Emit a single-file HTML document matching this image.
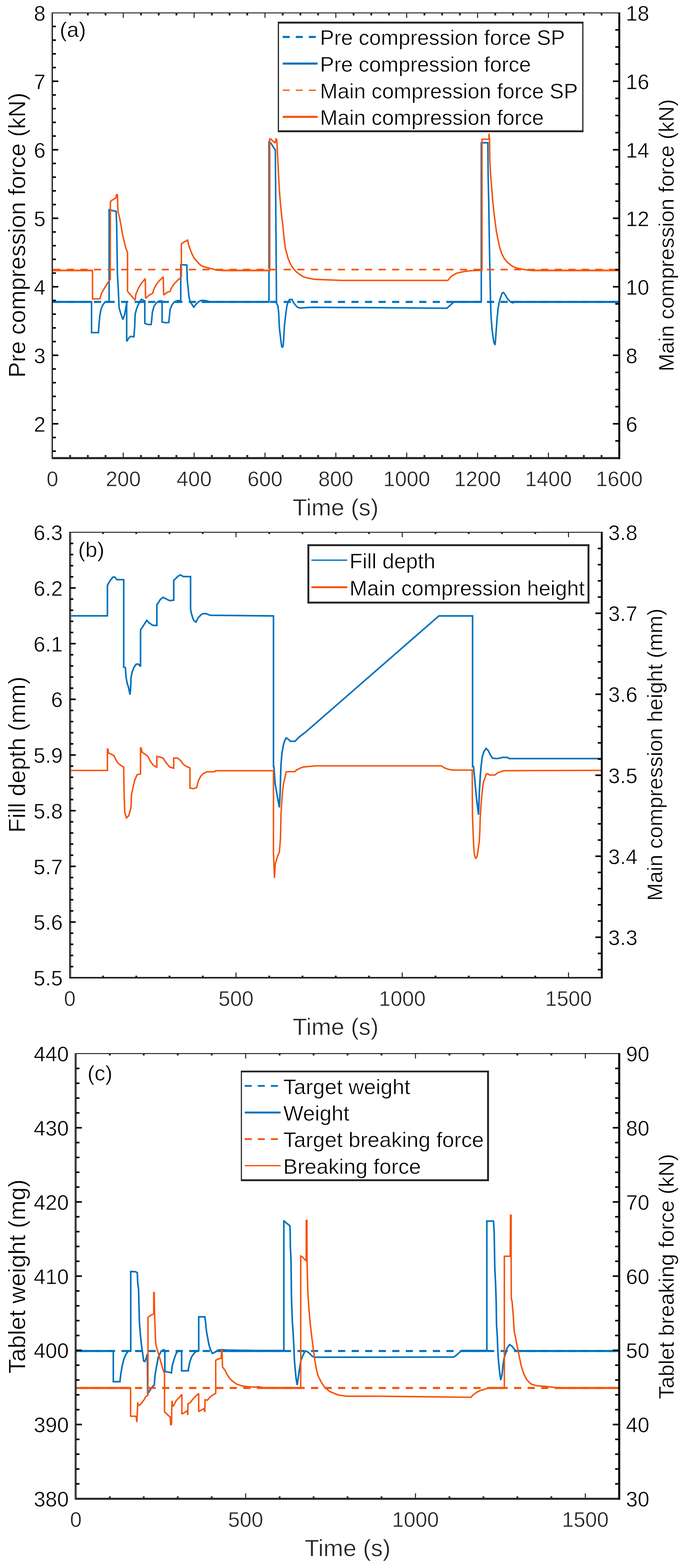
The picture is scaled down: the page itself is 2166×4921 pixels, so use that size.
<!DOCTYPE html>
<html><head><meta charset="utf-8"><title>Figure</title><style>html,body{margin:0;padding:0;background:#fff;}svg{display:block;}</style></head><body>
<svg width="2166" height="4921" viewBox="0 0 2166 4921" font-family="Liberation Sans, Arial, Helvetica, sans-serif">
<rect x="0" y="0" width="2166" height="4921" fill="#fff"/>
<defs>
<clipPath id="ca"><rect x="164.5" y="40.0" width="1779.5" height="1397.5"/></clipPath>
<clipPath id="cb"><rect x="219.0" y="1670.5" width="1670.0" height="1398.0"/></clipPath>
<clipPath id="cc"><rect x="238.0" y="3306.5" width="1706.0" height="1397.0"/></clipPath>
</defs>
<polyline points="164.5,947.6 1944.0,947.6" fill="none" stroke="#0072BD" stroke-width="6.5" stroke-linejoin="miter" stroke-miterlimit="2" stroke-dasharray="22.5 20.04" stroke-dashoffset="39.7" clip-path="url(#ca)"/>
<polyline points="164.5,947.3 287.4,947.3 287.4,1043.9 309.1,1043.9 310.4,1024.0 313.1,992.3 317.0,971.1 322.3,957.9 329.0,948.6 340.8,946.0 342.5,946.0 342.5,658.2 350.5,660.3 364.5,663.5 366.3,705.8 368.6,860.0 371.3,907.6 373.9,965.8 379.2,984.3 385.8,1002.9 391.1,987.0 395.1,965.8 397.7,950.0 397.7,1071.6 404.3,1061.0 409.6,1055.8 420.2,1057.1 422.9,1024.0 424.2,987.0 428.1,971.1 432.1,960.5 438.7,947.3 444.0,939.4 452.0,943.3 454.6,944.0 454.6,1014.8 465.2,1018.7 474.4,1018.7 475.8,1008.1 478.4,979.0 483.7,960.5 491.6,950.0 499.6,944.7 506.2,944.7 508.8,945.0 508.8,1010.8 520.7,1012.9 530.0,1012.1 531.3,997.6 534.0,971.1 539.3,957.9 547.2,947.3 557.8,943.3 567.4,943.5 567.4,830.5 586.5,831.8 587.8,878.1 590.4,902.0 593.1,931.1 597.0,946.9 602.3,954.9 608.1,964.1 615.6,954.9 623.5,946.9 631.4,943.0 639.4,943.0 650.0,944.3 660.0,947.5 844.4,947.5 844.4,446.0 850.3,449.1 861.7,467.6 864.4,470.0 865.3,600.0 867.0,820.0 868.0,952.0 872.5,960.0 874.7,980.0 876.9,1027.6 880.4,1057.6 884.0,1085.8 885.7,1091.1 888.8,1085.8 890.6,1063.8 892.8,1022.3 896.3,992.3 900.3,961.5 902.9,952.0 908.9,940.0 916.9,940.0 920.5,948.0 925.0,954.4 929.4,959.7 933.8,964.1 942.6,967.0 965.8,965.0 992.3,964.5 1045.2,965.0 1160.0,965.5 1403.2,967.3 1411.1,959.9 1423.0,949.3 1424.3,947.5 1510.8,947.5 1510.8,448.0 1531.4,448.0 1532.4,555.8 1534.3,640.0 1536.5,780.0 1539.5,930.0 1540.0,947.6 1541.3,991.7 1544.4,1031.4 1547.5,1057.0 1550.6,1075.5 1554.1,1082.6 1555.9,1062.3 1558.1,1031.4 1560.7,996.1 1563.8,967.0 1567.3,947.6 1570.8,935.3 1575.9,920.6 1580.3,917.9 1586.5,926.0 1593.8,938.8 1602.6,947.6 1610.3,950.5 1616.4,947.9 1944.0,947.9" fill="none" stroke="#0072BD" stroke-width="4.8" stroke-linejoin="miter" stroke-miterlimit="2" clip-path="url(#ca)"/>
<polyline points="164.5,947.6 287.4,947.6" fill="none" stroke="#0072BD" stroke-width="6.5" stroke-linejoin="miter" stroke-miterlimit="2" clip-path="url(#ca)"/>
<polyline points="329.0,947.6 342.5,947.6" fill="none" stroke="#0072BD" stroke-width="6.5" stroke-linejoin="miter" stroke-miterlimit="2" clip-path="url(#ca)"/>
<polyline points="440.0,947.6 454.6,947.6" fill="none" stroke="#0072BD" stroke-width="6.5" stroke-linejoin="miter" stroke-miterlimit="2" clip-path="url(#ca)"/>
<polyline points="493.0,947.6 508.8,947.6" fill="none" stroke="#0072BD" stroke-width="6.5" stroke-linejoin="miter" stroke-miterlimit="2" clip-path="url(#ca)"/>
<polyline points="549.0,947.6 567.4,947.6" fill="none" stroke="#0072BD" stroke-width="6.5" stroke-linejoin="miter" stroke-miterlimit="2" clip-path="url(#ca)"/>
<polyline points="633.0,947.6 844.4,947.6" fill="none" stroke="#0072BD" stroke-width="6.5" stroke-linejoin="miter" stroke-miterlimit="2" clip-path="url(#ca)"/>
<polyline points="1424.0,947.6 1510.8,947.6" fill="none" stroke="#0072BD" stroke-width="6.5" stroke-linejoin="miter" stroke-miterlimit="2" clip-path="url(#ca)"/>
<polyline points="1604.0,947.6 1944.0,947.6" fill="none" stroke="#0072BD" stroke-width="6.5" stroke-linejoin="miter" stroke-miterlimit="2" clip-path="url(#ca)"/>
<polyline points="164.5,846.0 290.4,846.0" fill="none" stroke="#FDC3AA" stroke-width="5.0" stroke-linejoin="miter" stroke-miterlimit="2" clip-path="url(#ca)"/>
<polyline points="690.0,846.0 846.7,846.0" fill="none" stroke="#FDC3AA" stroke-width="5.0" stroke-linejoin="miter" stroke-miterlimit="2" clip-path="url(#ca)"/>
<polyline points="1660.0,846.0 1944.0,846.0" fill="none" stroke="#FDC3AA" stroke-width="5.0" stroke-linejoin="miter" stroke-miterlimit="2" clip-path="url(#ca)"/>
<polyline points="164.5,846.0 1944.0,846.0" fill="none" stroke="#F8520A" stroke-width="5.0" stroke-linejoin="miter" stroke-miterlimit="2" stroke-dasharray="22.5 20.04" stroke-dashoffset="39.7" clip-path="url(#ca)"/>
<polyline points="164.5,849.3 290.4,849.3 290.4,938.0 313.1,938.0 318.7,920.5 329.3,902.0 342.5,881.0 346.1,877.0 346.5,633.0 350.5,629.0 363.7,621.2 365.5,611.0 368.5,611.0 370.3,663.5 375.6,684.7 379.6,705.8 384.9,737.6 390.2,758.7 395.4,779.9 400.4,793.0 400.4,914.2 412.3,928.8 424.2,942.0 426.5,923.0 434.4,904.7 442.3,891.4 456.0,874.2 456.9,936.4 468.8,925.8 479.4,920.5 482.0,909.9 489.9,894.1 497.9,883.5 512.4,868.9 513.8,925.8 524.3,917.9 534.9,913.9 536.2,907.3 544.2,894.1 553.4,883.5 569.3,868.9 569.3,765.7 575.9,760.4 586.5,755.1 589.1,752.5 591.7,767.0 597.0,782.9 602.3,796.1 608.9,809.4 615.6,817.3 623.5,826.6 631.4,833.2 639.4,837.1 650.0,839.8 665.8,843.8 679.0,847.4 700.0,849.3 846.7,849.3 846.7,436.0 849.5,436.0 863.7,449.1 866.5,436.0 868.8,437.6 871.4,488.0 875.0,558.7 877.6,606.3 881.1,647.0 884.7,682.2 887.5,705.0 889.5,725.0 891.7,746.3 895.7,780.0 899.7,793.2 903.7,809.1 908.9,822.3 915.6,835.6 923.5,846.1 931.4,854.1 942.0,862.0 952.6,868.6 965.8,872.6 987.0,876.6 1018.7,877.9 1071.6,880.0 1405.8,880.0 1416.4,867.3 1432.3,858.0 1448.1,854.1 1464.0,850.9 1485.2,849.3 1513.0,848.3 1513.0,437.0 1535.0,437.0 1535.0,419.5 1536.8,440.0 1537.5,497.0 1540.0,546.0 1542.8,582.0 1546.3,625.0 1550.6,667.3 1554.6,699.0 1558.5,728.1 1563.8,754.6 1569.1,778.4 1574.4,794.3 1582.3,810.2 1592.9,823.4 1606.1,834.0 1619.4,840.6 1632.6,843.2 1651.1,846.9 1672.3,849.3 1944.0,849.3" fill="none" stroke="#F8520A" stroke-width="4.6" stroke-linejoin="miter" stroke-miterlimit="2" clip-path="url(#ca)"/>
<polyline points="219.0,1932.8 337.2,1932.8 337.2,1837.6 340.7,1830.5 346.0,1821.7 354.8,1811.1 360.1,1811.1 367.1,1819.3 388.3,1819.3 388.3,2093.5 393.6,2095.3 395.4,2123.5 399.2,2144.7 402.9,2155.2 408.2,2180.0 410.0,2158.8 411.2,2127.0 414.8,2109.4 420.1,2095.3 427.1,2084.7 434.2,2084.0 441.2,2091.7 441.2,1976.9 444.8,1971.6 451.8,1961.0 460.6,1947.0 469.4,1955.8 480.0,1962.8 492.4,1962.8 492.4,1897.6 497.7,1890.5 503.0,1881.7 511.8,1874.6 522.4,1879.9 532.9,1885.2 545.3,1883.5 545.3,1821.7 550.6,1816.4 557.6,1809.4 566.4,1804.1 575.2,1809.4 598.2,1809.4 598.2,1911.7 600.0,1922.3 605.2,1939.9 608.2,1947.0 615.3,1952.3 622.3,1938.2 631.2,1929.4 637.0,1925.9 647.0,1925.9 660.0,1931.1 858.5,1932.9 858.5,2405.8 859.7,2405.8 863.7,2458.7 868.9,2490.5 872.9,2511.6 876.9,2534.1 879.5,2485.2 880.8,2437.6 882.2,2397.9 884.8,2366.1 888.8,2342.3 892.8,2326.5 898.0,2315.9 904.7,2319.8 911.3,2326.5 925.8,2326.5 936.4,2315.9 947.0,2306.6 957.6,2299.1 1377.8,1932.9 1483.5,1932.9 1483.5,2405.8 1486.3,2405.8 1490.3,2445.5 1494.2,2490.5 1498.2,2524.9 1502.2,2556.6 1504.8,2485.2 1507.5,2437.6 1510.1,2405.8 1514.1,2374.1 1519.4,2358.2 1526.0,2348.9 1532.6,2355.6 1539.2,2368.8 1545.8,2379.4 1559.0,2380.7 1569.6,2379.4 1577.6,2376.7 1593.4,2377.2 1598.7,2380.7 1889.0,2380.7" fill="none" stroke="#0072BD" stroke-width="5.0" stroke-linejoin="miter" stroke-miterlimit="2" clip-path="url(#cb)"/>
<polyline points="219.0,2418.0 337.2,2418.0 337.2,2351.0 339.0,2351.0 340.7,2363.4 349.5,2366.9 358.3,2372.2 363.6,2384.5 370.7,2395.1 379.5,2402.2 388.3,2407.4 389.0,2460.0 390.0,2503.5 391.7,2549.3 397.0,2567.0 404.1,2560.0 411.1,2535.2 412.9,2492.9 418.2,2468.2 423.5,2447.0 430.5,2431.1 441.1,2429.4 441.2,2347.5 443.0,2347.5 446.5,2361.6 455.3,2366.9 464.2,2373.9 471.2,2388.0 480.0,2400.4 490.6,2407.4 492.4,2407.4 492.4,2373.9 501.2,2375.7 511.8,2379.2 522.4,2395.1 533.0,2407.4 545.3,2411.0 545.3,2379.2 557.6,2379.2 568.2,2388.0 575.2,2398.6 585.8,2405.7 596.3,2410.0 596.3,2473.5 598.0,2473.5 606.9,2475.2 617.5,2471.7 622.8,2450.5 629.8,2436.4 638.6,2427.6 649.2,2422.3 673.9,2422.3 675.7,2418.8 858.4,2418.8 858.4,2675.0 861.5,2755.0 864.0,2712.0 871.0,2688.0 877.0,2674.0 880.5,2630.0 881.5,2580.0 882.2,2551.3 884.8,2511.6 887.5,2479.9 890.1,2458.7 894.1,2442.9 898.0,2423.0 902.0,2421.7 925.8,2421.7 931.1,2416.4 941.7,2411.1 952.3,2407.1 968.1,2405.8 992.0,2403.5 1385.2,2403.5 1395.8,2410.1 1406.3,2414.1 1419.6,2416.7 1482.3,2416.7 1483.1,2560.0 1484.8,2604.0 1486.6,2648.2 1488.8,2679.0 1492.8,2694.9 1497.6,2687.9 1501.1,2665.8 1504.7,2639.4 1506.4,2604.1 1507.5,2564.6 1510.1,2524.9 1512.8,2493.1 1515.4,2469.3 1518.0,2453.4 1522.0,2442.9 1526.0,2429.6 1531.3,2428.3 1536.6,2432.3 1553.8,2432.3 1561.7,2425.7 1572.3,2421.7 1580.2,2419.0 1625.2,2418.5 1889.0,2417.7" fill="none" stroke="#F8520A" stroke-width="4.6" stroke-linejoin="miter" stroke-miterlimit="2" clip-path="url(#cb)"/>
<polyline points="238.0,4240.0 1944.0,4240.0" fill="none" stroke="#0072BD" stroke-width="6.5" stroke-linejoin="miter" stroke-miterlimit="2" stroke-dasharray="22.5 20" stroke-dashoffset="26.7" clip-path="url(#cc)"/>
<polyline points="238.0,4239.7 355.7,4239.7 355.7,4336.2 376.8,4336.2 376.8,4332.3 379.5,4311.1 383.4,4287.3 388.7,4266.1 395.3,4250.3 402.0,4241.0 410.4,4239.7 410.4,3990.4 425.8,3991.2 431.0,3994.4 432.3,4026.1 435.0,4047.3 436.3,4100.2 437.7,4150.5 440.3,4184.9 443.0,4211.3 445.6,4232.5 448.3,4251.0 450.9,4271.4 454.9,4272.8 458.8,4263.5 461.5,4252.9 462.5,4250.0 463.5,4372.0 466.5,4370.3 472.3,4360.8 479.7,4350.7 484.5,4347.0 485.6,4325.8 487.7,4310.0 490.3,4294.1 493.5,4277.1 496.7,4260.2 502.0,4248.6 506.2,4240.1 513.6,4235.9 517.5,4238.0 517.5,4304.0 538.4,4308.5 538.4,4305.8 541.0,4284.7 545.0,4271.4 548.9,4258.2 554.2,4245.0 560.8,4239.7 570.1,4239.7 570.1,4301.9 591.3,4301.9 591.3,4297.9 595.2,4276.7 600.5,4260.8 605.8,4251.6 613.8,4242.3 623.8,4239.7 623.8,4132.8 642.9,4132.8 645.5,4151.3 648.1,4177.8 652.1,4200.0 656.1,4221.2 661.4,4237.0 666.7,4247.6 674.6,4243.7 685.2,4237.0 695.8,4235.7 711.6,4237.0 800.0,4238.5 891.0,4238.5 891.0,3830.5 897.0,3837.0 904.1,3842.3 910.2,3847.5 911.1,3880.0 911.4,3911.4 913.6,3956.4 914.9,4070.2 917.6,4145.9 920.2,4182.9 922.9,4235.8 924.2,4267.6 926.8,4299.3 929.5,4325.8 932.9,4346.9 937.4,4315.2 941.4,4288.7 945.3,4267.6 950.6,4254.3 955.9,4243.8 959.9,4239.8 965.2,4242.4 973.1,4249.0 981.1,4257.0 986.3,4259.6 1380.0,4259.0 1425.0,4259.1 1435.6,4250.4 1447.5,4239.8 1450.1,4238.5 1528.3,4238.5 1528.3,3832.3 1548.8,3832.3 1549.7,3837.6 1551.4,3872.9 1553.2,3978.7 1555.8,4031.6 1557.6,4084.6 1558.6,4156.5 1561.2,4196.1 1562.5,4235.8 1565.2,4275.5 1567.8,4302.0 1571.8,4331.1 1575.8,4315.2 1578.4,4288.7 1582.4,4262.3 1587.7,4246.4 1591.6,4230.5 1599.6,4219.9 1607.5,4225.2 1615.4,4235.8 1620.7,4239.8 1944.0,4239.5" fill="none" stroke="#0072BD" stroke-width="5.0" stroke-linejoin="miter" stroke-miterlimit="2" clip-path="url(#cc)"/>
<polyline points="238.0,4240.0 355.7,4240.0" fill="none" stroke="#0072BD" stroke-width="6.5" stroke-linejoin="miter" stroke-miterlimit="2" clip-path="url(#cc)"/>
<polyline points="403.0,4240.0 410.4,4240.0" fill="none" stroke="#0072BD" stroke-width="6.5" stroke-linejoin="miter" stroke-miterlimit="2" clip-path="url(#cc)"/>
<polyline points="559.0,4240.0 570.1,4240.0" fill="none" stroke="#0072BD" stroke-width="6.5" stroke-linejoin="miter" stroke-miterlimit="2" clip-path="url(#cc)"/>
<polyline points="615.0,4240.0 623.8,4240.0" fill="none" stroke="#0072BD" stroke-width="6.5" stroke-linejoin="miter" stroke-miterlimit="2" clip-path="url(#cc)"/>
<polyline points="686.0,4240.0 891.0,4240.0" fill="none" stroke="#0072BD" stroke-width="6.5" stroke-linejoin="miter" stroke-miterlimit="2" clip-path="url(#cc)"/>
<polyline points="1449.0,4240.0 1528.3,4240.0" fill="none" stroke="#0072BD" stroke-width="6.5" stroke-linejoin="miter" stroke-miterlimit="2" clip-path="url(#cc)"/>
<polyline points="1619.0,4240.0 1944.0,4240.0" fill="none" stroke="#0072BD" stroke-width="6.5" stroke-linejoin="miter" stroke-miterlimit="2" clip-path="url(#cc)"/>
<polyline points="238.0,4356.0 1944.0,4356.0" fill="none" stroke="#F8520A" stroke-width="6.3" stroke-linejoin="miter" stroke-miterlimit="2" stroke-dasharray="22.5 20" stroke-dashoffset="26.7" clip-path="url(#cc)"/>
<polyline points="238.0,4356.0 409.9,4356.0 409.9,4444.7 427.1,4444.7 429.7,4463.2 432.4,4401.0 433.7,4411.6 439.0,4409.0 444.3,4403.7 452.2,4393.1 457.5,4383.0 462.8,4379.9 464.5,4378.0 464.5,4134.6 470.7,4129.3 478.7,4125.3 482.6,4124.0 482.6,4056.6 484.0,4056.6 485.3,4124.0 487.9,4198.0 489.3,4220.0 493.5,4235.9 497.7,4249.6 502.0,4264.4 506.2,4279.3 510.4,4294.1 514.7,4306.8 516.4,4308.5 516.4,4430.2 518.5,4432.8 526.5,4440.7 534.4,4447.4 535.7,4471.2 538.4,4469.8 539.7,4395.8 542.3,4414.3 546.3,4409.0 552.9,4395.8 563.5,4385.2 570.9,4375.9 570.9,4438.1 579.4,4432.8 587.3,4427.5 589.4,4440.7 589.9,4406.3 597.9,4401.0 605.8,4390.5 613.8,4382.5 623.8,4373.3 623.8,4430.2 632.3,4424.9 640.2,4420.9 642.9,4431.5 643.7,4393.1 650.8,4394.4 658.7,4385.2 669.3,4377.2 677.2,4373.0 677.2,4268.8 682.5,4266.1 694.4,4262.2 695.8,4234.4 697.1,4235.7 698.4,4290.0 706.3,4300.5 711.6,4311.1 719.6,4324.3 730.2,4334.9 743.4,4344.2 759.3,4349.5 777.8,4352.1 800.0,4353.4 811.0,4352.0 827.0,4355.0 944.0,4355.0 944.0,3941.9 949.3,3944.5 961.2,3957.7 961.4,3830.3 963.5,3830.3 963.8,3957.2 966.4,4057.8 970.4,4116.0 974.3,4158.3 979.6,4203.3 983.6,4235.0 987.6,4264.1 992.9,4295.9 998.1,4317.0 1008.7,4338.2 1019.3,4354.1 1035.2,4367.3 1061.6,4377.9 1088.1,4381.9 1200.0,4382.0 1477.9,4385.3 1485.8,4377.4 1496.4,4369.4 1507.0,4364.1 1520.2,4360.2 1533.4,4356.2 1544.0,4355.4 1583.2,4355.4 1583.2,3942.6 1601.7,3942.6 1602.6,3814.0 1604.5,3814.0 1604.5,3950.0 1605.0,4075.0 1607.4,4084.2 1611.4,4131.9 1614.0,4176.8 1619.3,4203.3 1624.6,4229.7 1629.9,4256.2 1635.2,4282.6 1643.1,4309.1 1653.7,4330.3 1666.9,4343.5 1682.8,4348.8 1714.5,4351.4 1750.0,4355.4 1944.0,4355.4" fill="none" stroke="#F8520A" stroke-width="4.6" stroke-linejoin="miter" stroke-miterlimit="2" clip-path="url(#cc)"/>
<polyline points="238.0,4356.0 409.9,4356.0" fill="none" stroke="#F8520A" stroke-width="6.3" stroke-linejoin="miter" stroke-miterlimit="2" clip-path="url(#cc)"/>
<polyline points="828.0,4356.0 944.0,4356.0" fill="none" stroke="#F8520A" stroke-width="6.3" stroke-linejoin="miter" stroke-miterlimit="2" clip-path="url(#cc)"/>
<polyline points="1536.0,4356.0 1583.2,4356.0" fill="none" stroke="#F8520A" stroke-width="6.3" stroke-linejoin="miter" stroke-miterlimit="2" clip-path="url(#cc)"/>
<polyline points="1745.0,4356.0 1944.0,4356.0" fill="none" stroke="#F8520A" stroke-width="6.3" stroke-linejoin="miter" stroke-miterlimit="2" clip-path="url(#cc)"/>
<rect x="159.00" y="39.00" width="4.00" height="1402.00" fill="#c8c8c8"/>
<rect x="163.00" y="39.00" width="3.00" height="1402.00" fill="#000"/>
<rect x="163.00" y="39.00" width="1784.00" height="3.00" fill="#262626"/>
<rect x="163.00" y="1434.50" width="1784.00" height="6.50" fill="#232323"/>
<rect x="1941.00" y="39.00" width="6.00" height="1402.00" fill="#000"/>
<text x="164.50" y="1525.80" font-size="66" text-anchor="middle" fill="#262626" stroke="#fff" stroke-width="0.9">0</text>
<rect x="217.21" y="1428.10" width="5.80" height="6.40" fill="#232323"/>
<rect x="217.21" y="42.00" width="5.80" height="6.40" fill="#262626"/>
<rect x="272.82" y="1428.10" width="5.80" height="6.40" fill="#232323"/>
<rect x="272.82" y="42.00" width="5.80" height="6.40" fill="#262626"/>
<rect x="328.43" y="1428.10" width="5.80" height="6.40" fill="#232323"/>
<rect x="328.43" y="42.00" width="5.80" height="6.40" fill="#262626"/>
<rect x="385.34" y="1420.50" width="3.20" height="14.00" fill="#232323"/>
<rect x="385.34" y="42.00" width="3.20" height="14.00" fill="#262626"/>
<text x="386.94" y="1525.80" font-size="66" text-anchor="middle" fill="#262626" stroke="#fff" stroke-width="0.9">200</text>
<rect x="439.65" y="1428.10" width="5.80" height="6.40" fill="#232323"/>
<rect x="439.65" y="42.00" width="5.80" height="6.40" fill="#262626"/>
<rect x="495.26" y="1428.10" width="5.80" height="6.40" fill="#232323"/>
<rect x="495.26" y="42.00" width="5.80" height="6.40" fill="#262626"/>
<rect x="550.87" y="1428.10" width="5.80" height="6.40" fill="#232323"/>
<rect x="550.87" y="42.00" width="5.80" height="6.40" fill="#262626"/>
<rect x="607.77" y="1420.50" width="3.20" height="14.00" fill="#232323"/>
<rect x="607.77" y="42.00" width="3.20" height="14.00" fill="#262626"/>
<text x="609.38" y="1525.80" font-size="66" text-anchor="middle" fill="#262626" stroke="#fff" stroke-width="0.9">400</text>
<rect x="662.08" y="1428.10" width="5.80" height="6.40" fill="#232323"/>
<rect x="662.08" y="42.00" width="5.80" height="6.40" fill="#262626"/>
<rect x="717.69" y="1428.10" width="5.80" height="6.40" fill="#232323"/>
<rect x="717.69" y="42.00" width="5.80" height="6.40" fill="#262626"/>
<rect x="773.30" y="1428.10" width="5.80" height="6.40" fill="#232323"/>
<rect x="773.30" y="42.00" width="5.80" height="6.40" fill="#262626"/>
<rect x="830.21" y="1420.50" width="3.20" height="14.00" fill="#232323"/>
<rect x="830.21" y="42.00" width="3.20" height="14.00" fill="#262626"/>
<text x="831.81" y="1525.80" font-size="66" text-anchor="middle" fill="#262626" stroke="#fff" stroke-width="0.9">600</text>
<rect x="884.52" y="1428.10" width="5.80" height="6.40" fill="#232323"/>
<rect x="884.52" y="42.00" width="5.80" height="6.40" fill="#262626"/>
<rect x="940.13" y="1428.10" width="5.80" height="6.40" fill="#232323"/>
<rect x="940.13" y="42.00" width="5.80" height="6.40" fill="#262626"/>
<rect x="995.74" y="1428.10" width="5.80" height="6.40" fill="#232323"/>
<rect x="995.74" y="42.00" width="5.80" height="6.40" fill="#262626"/>
<rect x="1052.65" y="1420.50" width="3.20" height="14.00" fill="#232323"/>
<rect x="1052.65" y="42.00" width="3.20" height="14.00" fill="#262626"/>
<text x="1054.25" y="1525.80" font-size="66" text-anchor="middle" fill="#262626" stroke="#fff" stroke-width="0.9">800</text>
<rect x="1106.96" y="1428.10" width="5.80" height="6.40" fill="#232323"/>
<rect x="1106.96" y="42.00" width="5.80" height="6.40" fill="#262626"/>
<rect x="1162.57" y="1428.10" width="5.80" height="6.40" fill="#232323"/>
<rect x="1162.57" y="42.00" width="5.80" height="6.40" fill="#262626"/>
<rect x="1218.18" y="1428.10" width="5.80" height="6.40" fill="#232323"/>
<rect x="1218.18" y="42.00" width="5.80" height="6.40" fill="#262626"/>
<rect x="1275.09" y="1420.50" width="3.20" height="14.00" fill="#232323"/>
<rect x="1275.09" y="42.00" width="3.20" height="14.00" fill="#262626"/>
<text x="1276.69" y="1525.80" font-size="66" text-anchor="middle" fill="#262626" stroke="#fff" stroke-width="0.9">1000</text>
<rect x="1329.40" y="1428.10" width="5.80" height="6.40" fill="#232323"/>
<rect x="1329.40" y="42.00" width="5.80" height="6.40" fill="#262626"/>
<rect x="1385.01" y="1428.10" width="5.80" height="6.40" fill="#232323"/>
<rect x="1385.01" y="42.00" width="5.80" height="6.40" fill="#262626"/>
<rect x="1440.62" y="1428.10" width="5.80" height="6.40" fill="#232323"/>
<rect x="1440.62" y="42.00" width="5.80" height="6.40" fill="#262626"/>
<rect x="1497.53" y="1420.50" width="3.20" height="14.00" fill="#232323"/>
<rect x="1497.53" y="42.00" width="3.20" height="14.00" fill="#262626"/>
<text x="1499.12" y="1525.80" font-size="66" text-anchor="middle" fill="#262626" stroke="#fff" stroke-width="0.9">1200</text>
<rect x="1551.83" y="1428.10" width="5.80" height="6.40" fill="#232323"/>
<rect x="1551.83" y="42.00" width="5.80" height="6.40" fill="#262626"/>
<rect x="1607.44" y="1428.10" width="5.80" height="6.40" fill="#232323"/>
<rect x="1607.44" y="42.00" width="5.80" height="6.40" fill="#262626"/>
<rect x="1663.05" y="1428.10" width="5.80" height="6.40" fill="#232323"/>
<rect x="1663.05" y="42.00" width="5.80" height="6.40" fill="#262626"/>
<rect x="1719.96" y="1420.50" width="3.20" height="14.00" fill="#232323"/>
<rect x="1719.96" y="42.00" width="3.20" height="14.00" fill="#262626"/>
<text x="1721.56" y="1525.80" font-size="66" text-anchor="middle" fill="#262626" stroke="#fff" stroke-width="0.9">1400</text>
<rect x="1774.27" y="1428.10" width="5.80" height="6.40" fill="#232323"/>
<rect x="1774.27" y="42.00" width="5.80" height="6.40" fill="#262626"/>
<rect x="1829.88" y="1428.10" width="5.80" height="6.40" fill="#232323"/>
<rect x="1829.88" y="42.00" width="5.80" height="6.40" fill="#262626"/>
<rect x="1885.49" y="1428.10" width="5.80" height="6.40" fill="#232323"/>
<rect x="1885.49" y="42.00" width="5.80" height="6.40" fill="#262626"/>
<text x="1944.00" y="1525.80" font-size="66" text-anchor="middle" fill="#262626" stroke="#fff" stroke-width="0.9">1600</text>
<rect x="166.00" y="1413.50" width="9.50" height="5.00" fill="#000"/>
<rect x="166.00" y="1370.50" width="9.50" height="5.00" fill="#000"/>
<rect x="166.00" y="1327.50" width="17.00" height="5.00" fill="#000"/>
<text x="143.00" y="1354.50" font-size="66" text-anchor="end" fill="#000" stroke="#fff" stroke-width="0.9">2</text>
<rect x="166.00" y="1284.50" width="9.50" height="5.00" fill="#000"/>
<rect x="166.00" y="1241.50" width="9.50" height="5.00" fill="#000"/>
<rect x="166.00" y="1198.50" width="9.50" height="5.00" fill="#000"/>
<rect x="166.00" y="1155.50" width="9.50" height="5.00" fill="#000"/>
<rect x="166.00" y="1112.50" width="17.00" height="5.00" fill="#000"/>
<text x="143.00" y="1139.50" font-size="66" text-anchor="end" fill="#000" stroke="#fff" stroke-width="0.9">3</text>
<rect x="166.00" y="1069.50" width="9.50" height="5.00" fill="#000"/>
<rect x="166.00" y="1026.50" width="9.50" height="5.00" fill="#000"/>
<rect x="166.00" y="983.50" width="9.50" height="5.00" fill="#000"/>
<rect x="166.00" y="940.50" width="9.50" height="5.00" fill="#000"/>
<rect x="166.00" y="897.50" width="17.00" height="5.00" fill="#000"/>
<text x="143.00" y="924.50" font-size="66" text-anchor="end" fill="#000" stroke="#fff" stroke-width="0.9">4</text>
<rect x="166.00" y="854.50" width="9.50" height="5.00" fill="#000"/>
<rect x="166.00" y="811.50" width="9.50" height="5.00" fill="#000"/>
<rect x="166.00" y="768.50" width="9.50" height="5.00" fill="#000"/>
<rect x="166.00" y="725.50" width="9.50" height="5.00" fill="#000"/>
<rect x="166.00" y="682.50" width="17.00" height="5.00" fill="#000"/>
<text x="143.00" y="709.50" font-size="66" text-anchor="end" fill="#000" stroke="#fff" stroke-width="0.9">5</text>
<rect x="166.00" y="639.50" width="9.50" height="5.00" fill="#000"/>
<rect x="166.00" y="596.50" width="9.50" height="5.00" fill="#000"/>
<rect x="166.00" y="553.50" width="9.50" height="5.00" fill="#000"/>
<rect x="166.00" y="510.50" width="9.50" height="5.00" fill="#000"/>
<rect x="166.00" y="467.50" width="17.00" height="5.00" fill="#000"/>
<text x="143.00" y="494.50" font-size="66" text-anchor="end" fill="#000" stroke="#fff" stroke-width="0.9">6</text>
<rect x="166.00" y="424.50" width="9.50" height="5.00" fill="#000"/>
<rect x="166.00" y="381.50" width="9.50" height="5.00" fill="#000"/>
<rect x="166.00" y="338.50" width="9.50" height="5.00" fill="#000"/>
<rect x="166.00" y="295.50" width="9.50" height="5.00" fill="#000"/>
<rect x="166.00" y="252.50" width="17.00" height="5.00" fill="#000"/>
<text x="143.00" y="279.50" font-size="66" text-anchor="end" fill="#000" stroke="#fff" stroke-width="0.9">7</text>
<rect x="166.00" y="209.50" width="9.50" height="5.00" fill="#000"/>
<rect x="166.00" y="166.50" width="9.50" height="5.00" fill="#000"/>
<rect x="166.00" y="123.50" width="9.50" height="5.00" fill="#000"/>
<rect x="166.00" y="80.50" width="9.50" height="5.00" fill="#000"/>
<text x="143.00" y="64.50" font-size="66" text-anchor="end" fill="#000" stroke="#fff" stroke-width="0.9">8</text>
<rect x="1931.50" y="1381.25" width="9.50" height="5.00" fill="#000"/>
<rect x="1924.00" y="1327.50" width="17.00" height="5.00" fill="#000"/>
<text x="1964.50" y="1354.50" font-size="66" text-anchor="start" fill="#000" stroke="#fff" stroke-width="0.9">6</text>
<rect x="1931.50" y="1273.75" width="9.50" height="5.00" fill="#000"/>
<rect x="1931.50" y="1220.00" width="9.50" height="5.00" fill="#000"/>
<rect x="1931.50" y="1166.25" width="9.50" height="5.00" fill="#000"/>
<rect x="1924.00" y="1112.50" width="17.00" height="5.00" fill="#000"/>
<text x="1964.50" y="1139.50" font-size="66" text-anchor="start" fill="#000" stroke="#fff" stroke-width="0.9">8</text>
<rect x="1931.50" y="1058.75" width="9.50" height="5.00" fill="#000"/>
<rect x="1931.50" y="1005.00" width="9.50" height="5.00" fill="#000"/>
<rect x="1931.50" y="951.25" width="9.50" height="5.00" fill="#000"/>
<rect x="1924.00" y="897.50" width="17.00" height="5.00" fill="#000"/>
<text x="1964.50" y="924.50" font-size="66" text-anchor="start" fill="#000" stroke="#fff" stroke-width="0.9">10</text>
<rect x="1931.50" y="843.75" width="9.50" height="5.00" fill="#000"/>
<rect x="1931.50" y="790.00" width="9.50" height="5.00" fill="#000"/>
<rect x="1931.50" y="736.25" width="9.50" height="5.00" fill="#000"/>
<rect x="1924.00" y="682.50" width="17.00" height="5.00" fill="#000"/>
<text x="1964.50" y="709.50" font-size="66" text-anchor="start" fill="#000" stroke="#fff" stroke-width="0.9">12</text>
<rect x="1931.50" y="628.75" width="9.50" height="5.00" fill="#000"/>
<rect x="1931.50" y="575.00" width="9.50" height="5.00" fill="#000"/>
<rect x="1931.50" y="521.25" width="9.50" height="5.00" fill="#000"/>
<rect x="1924.00" y="467.50" width="17.00" height="5.00" fill="#000"/>
<text x="1964.50" y="494.50" font-size="66" text-anchor="start" fill="#000" stroke="#fff" stroke-width="0.9">14</text>
<rect x="1931.50" y="413.75" width="9.50" height="5.00" fill="#000"/>
<rect x="1931.50" y="360.00" width="9.50" height="5.00" fill="#000"/>
<rect x="1931.50" y="306.25" width="9.50" height="5.00" fill="#000"/>
<rect x="1924.00" y="252.50" width="17.00" height="5.00" fill="#000"/>
<text x="1964.50" y="279.50" font-size="66" text-anchor="start" fill="#000" stroke="#fff" stroke-width="0.9">16</text>
<rect x="1931.50" y="198.75" width="9.50" height="5.00" fill="#000"/>
<rect x="1931.50" y="145.00" width="9.50" height="5.00" fill="#000"/>
<rect x="1931.50" y="91.25" width="9.50" height="5.00" fill="#000"/>
<text x="1964.50" y="64.50" font-size="66" text-anchor="start" fill="#000" stroke="#fff" stroke-width="0.9">18</text>
<text x="1053.40" y="1618.10" font-size="74.3" text-anchor="middle" fill="#262626" stroke="#fff" stroke-width="0.9">Time (s)</text>
<text x="79.30" y="738.00" font-size="73.5" text-anchor="middle" fill="#000" transform="rotate(-90 79.30 738.00)" stroke="#fff" stroke-width="0.9">Pre compression force (kN)</text>
<text x="2115.00" y="738.40" font-size="66.85" text-anchor="middle" fill="#000" transform="rotate(-90 2115.00 738.40)" stroke="#fff" stroke-width="0.9">Main compression force (kN)</text>
<rect x="220.60" y="1669.00" width="3.20" height="1402.00" fill="#6e6e6e"/>
<rect x="217.50" y="1669.00" width="3.10" height="1402.00" fill="#000"/>
<rect x="217.50" y="1669.00" width="1674.50" height="3.00" fill="#262626"/>
<rect x="217.50" y="3066.00" width="1674.50" height="5.00" fill="#232323"/>
<rect x="1886.00" y="1669.00" width="6.00" height="1402.00" fill="#000"/>
<text x="219.00" y="3156.60" font-size="66" text-anchor="middle" fill="#262626" stroke="#fff" stroke-width="0.9">0</text>
<rect x="320.48" y="3062.00" width="5.80" height="4.00" fill="#232323"/>
<rect x="320.48" y="1672.00" width="5.80" height="4.00" fill="#262626"/>
<rect x="424.85" y="3062.00" width="5.80" height="4.00" fill="#232323"/>
<rect x="424.85" y="1672.00" width="5.80" height="4.00" fill="#262626"/>
<rect x="529.23" y="3062.00" width="5.80" height="4.00" fill="#232323"/>
<rect x="529.23" y="1672.00" width="5.80" height="4.00" fill="#262626"/>
<rect x="633.60" y="3062.00" width="5.80" height="4.00" fill="#232323"/>
<rect x="633.60" y="1672.00" width="5.80" height="4.00" fill="#262626"/>
<rect x="739.27" y="3052.00" width="3.20" height="14.00" fill="#232323"/>
<rect x="739.27" y="1672.00" width="3.20" height="14.00" fill="#262626"/>
<text x="740.88" y="3156.60" font-size="66" text-anchor="middle" fill="#262626" stroke="#fff" stroke-width="0.9">500</text>
<rect x="842.35" y="3062.00" width="5.80" height="4.00" fill="#232323"/>
<rect x="842.35" y="1672.00" width="5.80" height="4.00" fill="#262626"/>
<rect x="946.73" y="3062.00" width="5.80" height="4.00" fill="#232323"/>
<rect x="946.73" y="1672.00" width="5.80" height="4.00" fill="#262626"/>
<rect x="1051.10" y="3062.00" width="5.80" height="4.00" fill="#232323"/>
<rect x="1051.10" y="1672.00" width="5.80" height="4.00" fill="#262626"/>
<rect x="1155.47" y="3062.00" width="5.80" height="4.00" fill="#232323"/>
<rect x="1155.47" y="1672.00" width="5.80" height="4.00" fill="#262626"/>
<rect x="1261.15" y="3052.00" width="3.20" height="14.00" fill="#232323"/>
<rect x="1261.15" y="1672.00" width="3.20" height="14.00" fill="#262626"/>
<text x="1262.75" y="3156.60" font-size="66" text-anchor="middle" fill="#262626" stroke="#fff" stroke-width="0.9">1000</text>
<rect x="1364.22" y="3062.00" width="5.80" height="4.00" fill="#232323"/>
<rect x="1364.22" y="1672.00" width="5.80" height="4.00" fill="#262626"/>
<rect x="1468.60" y="3062.00" width="5.80" height="4.00" fill="#232323"/>
<rect x="1468.60" y="1672.00" width="5.80" height="4.00" fill="#262626"/>
<rect x="1572.97" y="3062.00" width="5.80" height="4.00" fill="#232323"/>
<rect x="1572.97" y="1672.00" width="5.80" height="4.00" fill="#262626"/>
<rect x="1677.35" y="3062.00" width="5.80" height="4.00" fill="#232323"/>
<rect x="1677.35" y="1672.00" width="5.80" height="4.00" fill="#262626"/>
<rect x="1783.03" y="3052.00" width="3.20" height="14.00" fill="#232323"/>
<rect x="1783.03" y="1672.00" width="3.20" height="14.00" fill="#262626"/>
<text x="1784.62" y="3156.60" font-size="66" text-anchor="middle" fill="#262626" stroke="#fff" stroke-width="0.9">1500</text>
<text x="197.00" y="3093.00" font-size="66" text-anchor="end" fill="#000" stroke="#fff" stroke-width="0.9">5.5</text>
<rect x="220.60" y="3031.05" width="9.50" height="5.00" fill="#000"/>
<rect x="220.60" y="2996.10" width="9.50" height="5.00" fill="#000"/>
<rect x="220.60" y="2961.15" width="9.50" height="5.00" fill="#000"/>
<rect x="220.60" y="2926.20" width="9.50" height="5.00" fill="#000"/>
<rect x="220.60" y="2891.25" width="17.00" height="5.00" fill="#000"/>
<text x="197.00" y="2918.25" font-size="66" text-anchor="end" fill="#000" stroke="#fff" stroke-width="0.9">5.6</text>
<rect x="220.60" y="2856.30" width="9.50" height="5.00" fill="#000"/>
<rect x="220.60" y="2821.35" width="9.50" height="5.00" fill="#000"/>
<rect x="220.60" y="2786.40" width="9.50" height="5.00" fill="#000"/>
<rect x="220.60" y="2751.45" width="9.50" height="5.00" fill="#000"/>
<rect x="220.60" y="2716.50" width="17.00" height="5.00" fill="#000"/>
<text x="197.00" y="2743.50" font-size="66" text-anchor="end" fill="#000" stroke="#fff" stroke-width="0.9">5.7</text>
<rect x="220.60" y="2681.55" width="9.50" height="5.00" fill="#000"/>
<rect x="220.60" y="2646.60" width="9.50" height="5.00" fill="#000"/>
<rect x="220.60" y="2611.65" width="9.50" height="5.00" fill="#000"/>
<rect x="220.60" y="2576.70" width="9.50" height="5.00" fill="#000"/>
<rect x="220.60" y="2541.75" width="17.00" height="5.00" fill="#000"/>
<text x="197.00" y="2568.75" font-size="66" text-anchor="end" fill="#000" stroke="#fff" stroke-width="0.9">5.8</text>
<rect x="220.60" y="2506.80" width="9.50" height="5.00" fill="#000"/>
<rect x="220.60" y="2471.85" width="9.50" height="5.00" fill="#000"/>
<rect x="220.60" y="2436.90" width="9.50" height="5.00" fill="#000"/>
<rect x="220.60" y="2401.95" width="9.50" height="5.00" fill="#000"/>
<rect x="220.60" y="2367.00" width="17.00" height="5.00" fill="#000"/>
<text x="197.00" y="2394.00" font-size="66" text-anchor="end" fill="#000" stroke="#fff" stroke-width="0.9">5.9</text>
<rect x="220.60" y="2332.05" width="9.50" height="5.00" fill="#000"/>
<rect x="220.60" y="2297.10" width="9.50" height="5.00" fill="#000"/>
<rect x="220.60" y="2262.15" width="9.50" height="5.00" fill="#000"/>
<rect x="220.60" y="2227.20" width="9.50" height="5.00" fill="#000"/>
<rect x="220.60" y="2192.25" width="17.00" height="5.00" fill="#000"/>
<text x="197.00" y="2219.25" font-size="66" text-anchor="end" fill="#000" stroke="#fff" stroke-width="0.9">6</text>
<rect x="220.60" y="2157.30" width="9.50" height="5.00" fill="#000"/>
<rect x="220.60" y="2122.35" width="9.50" height="5.00" fill="#000"/>
<rect x="220.60" y="2087.40" width="9.50" height="5.00" fill="#000"/>
<rect x="220.60" y="2052.45" width="9.50" height="5.00" fill="#000"/>
<rect x="220.60" y="2017.50" width="17.00" height="5.00" fill="#000"/>
<text x="197.00" y="2044.50" font-size="66" text-anchor="end" fill="#000" stroke="#fff" stroke-width="0.9">6.1</text>
<rect x="220.60" y="1982.55" width="9.50" height="5.00" fill="#000"/>
<rect x="220.60" y="1947.60" width="9.50" height="5.00" fill="#000"/>
<rect x="220.60" y="1912.65" width="9.50" height="5.00" fill="#000"/>
<rect x="220.60" y="1877.70" width="9.50" height="5.00" fill="#000"/>
<rect x="220.60" y="1842.75" width="17.00" height="5.00" fill="#000"/>
<text x="197.00" y="1869.75" font-size="66" text-anchor="end" fill="#000" stroke="#fff" stroke-width="0.9">6.2</text>
<rect x="220.60" y="1807.80" width="9.50" height="5.00" fill="#000"/>
<rect x="220.60" y="1772.85" width="9.50" height="5.00" fill="#000"/>
<rect x="220.60" y="1737.90" width="9.50" height="5.00" fill="#000"/>
<rect x="220.60" y="1702.95" width="9.50" height="5.00" fill="#000"/>
<text x="197.00" y="1695.00" font-size="66" text-anchor="end" fill="#000" stroke="#fff" stroke-width="0.9">6.3</text>
<rect x="1876.50" y="3040.58" width="9.50" height="5.00" fill="#000"/>
<rect x="1876.50" y="2989.75" width="9.50" height="5.00" fill="#000"/>
<rect x="1869.00" y="2938.91" width="17.00" height="5.00" fill="#000"/>
<text x="1909.50" y="2965.91" font-size="66" text-anchor="start" fill="#000" stroke="#fff" stroke-width="0.9">3.3</text>
<rect x="1876.50" y="2888.07" width="9.50" height="5.00" fill="#000"/>
<rect x="1876.50" y="2837.24" width="9.50" height="5.00" fill="#000"/>
<rect x="1876.50" y="2786.40" width="9.50" height="5.00" fill="#000"/>
<rect x="1876.50" y="2735.56" width="9.50" height="5.00" fill="#000"/>
<rect x="1869.00" y="2684.73" width="17.00" height="5.00" fill="#000"/>
<text x="1909.50" y="2711.73" font-size="66" text-anchor="start" fill="#000" stroke="#fff" stroke-width="0.9">3.4</text>
<rect x="1876.50" y="2633.89" width="9.50" height="5.00" fill="#000"/>
<rect x="1876.50" y="2583.05" width="9.50" height="5.00" fill="#000"/>
<rect x="1876.50" y="2532.22" width="9.50" height="5.00" fill="#000"/>
<rect x="1876.50" y="2481.38" width="9.50" height="5.00" fill="#000"/>
<rect x="1869.00" y="2430.55" width="17.00" height="5.00" fill="#000"/>
<text x="1909.50" y="2457.55" font-size="66" text-anchor="start" fill="#000" stroke="#fff" stroke-width="0.9">3.5</text>
<rect x="1876.50" y="2379.71" width="9.50" height="5.00" fill="#000"/>
<rect x="1876.50" y="2328.87" width="9.50" height="5.00" fill="#000"/>
<rect x="1876.50" y="2278.04" width="9.50" height="5.00" fill="#000"/>
<rect x="1876.50" y="2227.20" width="9.50" height="5.00" fill="#000"/>
<rect x="1869.00" y="2176.36" width="17.00" height="5.00" fill="#000"/>
<text x="1909.50" y="2203.36" font-size="66" text-anchor="start" fill="#000" stroke="#fff" stroke-width="0.9">3.6</text>
<rect x="1876.50" y="2125.53" width="9.50" height="5.00" fill="#000"/>
<rect x="1876.50" y="2074.69" width="9.50" height="5.00" fill="#000"/>
<rect x="1876.50" y="2023.85" width="9.50" height="5.00" fill="#000"/>
<rect x="1876.50" y="1973.02" width="9.50" height="5.00" fill="#000"/>
<rect x="1869.00" y="1922.18" width="17.00" height="5.00" fill="#000"/>
<text x="1909.50" y="1949.18" font-size="66" text-anchor="start" fill="#000" stroke="#fff" stroke-width="0.9">3.7</text>
<rect x="1876.50" y="1871.35" width="9.50" height="5.00" fill="#000"/>
<rect x="1876.50" y="1820.51" width="9.50" height="5.00" fill="#000"/>
<rect x="1876.50" y="1769.67" width="9.50" height="5.00" fill="#000"/>
<rect x="1876.50" y="1718.84" width="9.50" height="5.00" fill="#000"/>
<text x="1909.50" y="1695.00" font-size="66" text-anchor="start" fill="#000" stroke="#fff" stroke-width="0.9">3.8</text>
<text x="1053.40" y="3248.10" font-size="74.3" text-anchor="middle" fill="#262626" stroke="#fff" stroke-width="0.9">Time (s)</text>
<text x="79.30" y="2368.30" font-size="73.5" text-anchor="middle" fill="#000" transform="rotate(-90 79.30 2368.30)" stroke="#fff" stroke-width="0.9">Fill depth (mm)</text>
<text x="2079.20" y="2368.50" font-size="66.85" text-anchor="middle" fill="#000" transform="rotate(-90 2079.20 2368.50)" stroke="#fff" stroke-width="0.9">Main compression height (mm)</text>
<rect x="233.50" y="3305.00" width="3.50" height="1401.80" fill="#7a7a7a"/>
<rect x="237.00" y="3305.00" width="3.00" height="1401.80" fill="#000"/>
<rect x="237.00" y="3305.00" width="1710.00" height="3.00" fill="#262626"/>
<rect x="237.00" y="4700.70" width="1710.00" height="6.10" fill="#232323"/>
<rect x="1940.50" y="3305.00" width="6.50" height="1401.80" fill="#000"/>
<text x="238.00" y="4791.90" font-size="66" text-anchor="middle" fill="#262626" stroke="#fff" stroke-width="0.9">0</text>
<rect x="341.73" y="4696.20" width="5.80" height="4.50" fill="#232323"/>
<rect x="341.73" y="3308.00" width="5.80" height="4.50" fill="#262626"/>
<rect x="448.35" y="4696.20" width="5.80" height="4.50" fill="#232323"/>
<rect x="448.35" y="3308.00" width="5.80" height="4.50" fill="#262626"/>
<rect x="554.98" y="4696.20" width="5.80" height="4.50" fill="#232323"/>
<rect x="554.98" y="3308.00" width="5.80" height="4.50" fill="#262626"/>
<rect x="661.60" y="4696.20" width="5.80" height="4.50" fill="#232323"/>
<rect x="661.60" y="3308.00" width="5.80" height="4.50" fill="#262626"/>
<rect x="769.52" y="4686.70" width="3.20" height="14.00" fill="#232323"/>
<rect x="769.52" y="3308.00" width="3.20" height="14.00" fill="#262626"/>
<text x="771.12" y="4791.90" font-size="66" text-anchor="middle" fill="#262626" stroke="#fff" stroke-width="0.9">500</text>
<rect x="874.85" y="4696.20" width="5.80" height="4.50" fill="#232323"/>
<rect x="874.85" y="3308.00" width="5.80" height="4.50" fill="#262626"/>
<rect x="981.48" y="4696.20" width="5.80" height="4.50" fill="#232323"/>
<rect x="981.48" y="3308.00" width="5.80" height="4.50" fill="#262626"/>
<rect x="1088.10" y="4696.20" width="5.80" height="4.50" fill="#232323"/>
<rect x="1088.10" y="3308.00" width="5.80" height="4.50" fill="#262626"/>
<rect x="1194.72" y="4696.20" width="5.80" height="4.50" fill="#232323"/>
<rect x="1194.72" y="3308.00" width="5.80" height="4.50" fill="#262626"/>
<rect x="1302.65" y="4686.70" width="3.20" height="14.00" fill="#232323"/>
<rect x="1302.65" y="3308.00" width="3.20" height="14.00" fill="#262626"/>
<text x="1304.25" y="4791.90" font-size="66" text-anchor="middle" fill="#262626" stroke="#fff" stroke-width="0.9">1000</text>
<rect x="1407.97" y="4696.20" width="5.80" height="4.50" fill="#232323"/>
<rect x="1407.97" y="3308.00" width="5.80" height="4.50" fill="#262626"/>
<rect x="1514.60" y="4696.20" width="5.80" height="4.50" fill="#232323"/>
<rect x="1514.60" y="3308.00" width="5.80" height="4.50" fill="#262626"/>
<rect x="1621.22" y="4696.20" width="5.80" height="4.50" fill="#232323"/>
<rect x="1621.22" y="3308.00" width="5.80" height="4.50" fill="#262626"/>
<rect x="1727.85" y="4696.20" width="5.80" height="4.50" fill="#232323"/>
<rect x="1727.85" y="3308.00" width="5.80" height="4.50" fill="#262626"/>
<rect x="1835.78" y="4686.70" width="3.20" height="14.00" fill="#232323"/>
<rect x="1835.78" y="3308.00" width="3.20" height="14.00" fill="#262626"/>
<text x="1837.38" y="4791.90" font-size="66" text-anchor="middle" fill="#262626" stroke="#fff" stroke-width="0.9">1500</text>
<text x="216.00" y="4728.00" font-size="66" text-anchor="end" fill="#000" stroke="#fff" stroke-width="0.9">380</text>
<rect x="240.00" y="4654.43" width="9.50" height="5.00" fill="#000"/>
<rect x="240.00" y="4607.87" width="9.50" height="5.00" fill="#000"/>
<rect x="240.00" y="4561.30" width="9.50" height="5.00" fill="#000"/>
<rect x="240.00" y="4514.73" width="9.50" height="5.00" fill="#000"/>
<rect x="240.00" y="4468.17" width="17.00" height="5.00" fill="#000"/>
<text x="216.00" y="4495.17" font-size="66" text-anchor="end" fill="#000" stroke="#fff" stroke-width="0.9">390</text>
<rect x="240.00" y="4421.60" width="9.50" height="5.00" fill="#000"/>
<rect x="240.00" y="4375.03" width="9.50" height="5.00" fill="#000"/>
<rect x="240.00" y="4328.47" width="9.50" height="5.00" fill="#000"/>
<rect x="240.00" y="4281.90" width="9.50" height="5.00" fill="#000"/>
<rect x="240.00" y="4235.33" width="17.00" height="5.00" fill="#000"/>
<text x="216.00" y="4262.33" font-size="66" text-anchor="end" fill="#000" stroke="#fff" stroke-width="0.9">400</text>
<rect x="240.00" y="4188.77" width="9.50" height="5.00" fill="#000"/>
<rect x="240.00" y="4142.20" width="9.50" height="5.00" fill="#000"/>
<rect x="240.00" y="4095.63" width="9.50" height="5.00" fill="#000"/>
<rect x="240.00" y="4049.07" width="9.50" height="5.00" fill="#000"/>
<rect x="240.00" y="4002.50" width="17.00" height="5.00" fill="#000"/>
<text x="216.00" y="4029.50" font-size="66" text-anchor="end" fill="#000" stroke="#fff" stroke-width="0.9">410</text>
<rect x="240.00" y="3955.93" width="9.50" height="5.00" fill="#000"/>
<rect x="240.00" y="3909.37" width="9.50" height="5.00" fill="#000"/>
<rect x="240.00" y="3862.80" width="9.50" height="5.00" fill="#000"/>
<rect x="240.00" y="3816.23" width="9.50" height="5.00" fill="#000"/>
<rect x="240.00" y="3769.67" width="17.00" height="5.00" fill="#000"/>
<text x="216.00" y="3796.67" font-size="66" text-anchor="end" fill="#000" stroke="#fff" stroke-width="0.9">420</text>
<rect x="240.00" y="3723.10" width="9.50" height="5.00" fill="#000"/>
<rect x="240.00" y="3676.53" width="9.50" height="5.00" fill="#000"/>
<rect x="240.00" y="3629.97" width="9.50" height="5.00" fill="#000"/>
<rect x="240.00" y="3583.40" width="9.50" height="5.00" fill="#000"/>
<rect x="240.00" y="3536.83" width="17.00" height="5.00" fill="#000"/>
<text x="216.00" y="3563.83" font-size="66" text-anchor="end" fill="#000" stroke="#fff" stroke-width="0.9">430</text>
<rect x="240.00" y="3490.27" width="9.50" height="5.00" fill="#000"/>
<rect x="240.00" y="3443.70" width="9.50" height="5.00" fill="#000"/>
<rect x="240.00" y="3397.13" width="9.50" height="5.00" fill="#000"/>
<rect x="240.00" y="3350.57" width="9.50" height="5.00" fill="#000"/>
<text x="216.00" y="3331.00" font-size="66" text-anchor="end" fill="#000" stroke="#fff" stroke-width="0.9">440</text>
<text x="1965.00" y="4728.00" font-size="66" text-anchor="start" fill="#000" stroke="#fff" stroke-width="0.9">30</text>
<rect x="1931.00" y="4654.43" width="9.50" height="5.00" fill="#000"/>
<rect x="1931.00" y="4607.87" width="9.50" height="5.00" fill="#000"/>
<rect x="1931.00" y="4561.30" width="9.50" height="5.00" fill="#000"/>
<rect x="1931.00" y="4514.73" width="9.50" height="5.00" fill="#000"/>
<rect x="1923.50" y="4468.17" width="17.00" height="5.00" fill="#000"/>
<text x="1965.00" y="4495.17" font-size="66" text-anchor="start" fill="#000" stroke="#fff" stroke-width="0.9">40</text>
<rect x="1931.00" y="4421.60" width="9.50" height="5.00" fill="#000"/>
<rect x="1931.00" y="4375.03" width="9.50" height="5.00" fill="#000"/>
<rect x="1931.00" y="4328.47" width="9.50" height="5.00" fill="#000"/>
<rect x="1931.00" y="4281.90" width="9.50" height="5.00" fill="#000"/>
<rect x="1923.50" y="4235.33" width="17.00" height="5.00" fill="#000"/>
<text x="1965.00" y="4262.33" font-size="66" text-anchor="start" fill="#000" stroke="#fff" stroke-width="0.9">50</text>
<rect x="1931.00" y="4188.77" width="9.50" height="5.00" fill="#000"/>
<rect x="1931.00" y="4142.20" width="9.50" height="5.00" fill="#000"/>
<rect x="1931.00" y="4095.63" width="9.50" height="5.00" fill="#000"/>
<rect x="1931.00" y="4049.07" width="9.50" height="5.00" fill="#000"/>
<rect x="1923.50" y="4002.50" width="17.00" height="5.00" fill="#000"/>
<text x="1965.00" y="4029.50" font-size="66" text-anchor="start" fill="#000" stroke="#fff" stroke-width="0.9">60</text>
<rect x="1931.00" y="3955.93" width="9.50" height="5.00" fill="#000"/>
<rect x="1931.00" y="3909.37" width="9.50" height="5.00" fill="#000"/>
<rect x="1931.00" y="3862.80" width="9.50" height="5.00" fill="#000"/>
<rect x="1931.00" y="3816.23" width="9.50" height="5.00" fill="#000"/>
<rect x="1923.50" y="3769.67" width="17.00" height="5.00" fill="#000"/>
<text x="1965.00" y="3796.67" font-size="66" text-anchor="start" fill="#000" stroke="#fff" stroke-width="0.9">70</text>
<rect x="1931.00" y="3723.10" width="9.50" height="5.00" fill="#000"/>
<rect x="1931.00" y="3676.53" width="9.50" height="5.00" fill="#000"/>
<rect x="1931.00" y="3629.97" width="9.50" height="5.00" fill="#000"/>
<rect x="1931.00" y="3583.40" width="9.50" height="5.00" fill="#000"/>
<rect x="1923.50" y="3536.83" width="17.00" height="5.00" fill="#000"/>
<text x="1965.00" y="3563.83" font-size="66" text-anchor="start" fill="#000" stroke="#fff" stroke-width="0.9">80</text>
<rect x="1931.00" y="3490.27" width="9.50" height="5.00" fill="#000"/>
<rect x="1931.00" y="3443.70" width="9.50" height="5.00" fill="#000"/>
<rect x="1931.00" y="3397.13" width="9.50" height="5.00" fill="#000"/>
<rect x="1931.00" y="3350.57" width="9.50" height="5.00" fill="#000"/>
<text x="1965.00" y="3331.00" font-size="66" text-anchor="start" fill="#000" stroke="#fff" stroke-width="0.9">90</text>
<text x="1091.30" y="4884.10" font-size="74.3" text-anchor="middle" fill="#262626" stroke="#fff" stroke-width="0.9">Time (s)</text>
<text x="79.00" y="4006.00" font-size="74.6" text-anchor="middle" fill="#000" transform="rotate(-90 79.00 4006.00)" stroke="#fff" stroke-width="0.9">Tablet weight (mg)</text>
<text x="2115.30" y="4006.10" font-size="67.2" text-anchor="middle" fill="#000" transform="rotate(-90 2115.30 4006.10)" stroke="#fff" stroke-width="0.9">Tablet breaking force (kN)</text>
<text x="187.50" y="115.50" font-size="67.5" text-anchor="start" fill="#000" stroke="#fff" stroke-width="0.9">(a)</text>
<text x="245.30" y="1748.00" font-size="67.5" text-anchor="start" fill="#000" stroke="#fff" stroke-width="0.9">(b)</text>
<text x="274.40" y="3391.00" font-size="67.5" text-anchor="start" fill="#000" stroke="#fff" stroke-width="0.9">(c)</text>
<rect x="872.00" y="68.00" width="959.50" height="347.00" fill="#fff"/>
<rect x="872.00" y="68.00" width="959.50" height="6.00" fill="#262626"/>
<rect x="872.00" y="409.00" width="959.50" height="6.00" fill="#262626"/>
<rect x="872.00" y="68.00" width="3.80" height="347.00" fill="#262626"/>
<rect x="1827.70" y="68.00" width="3.80" height="347.00" fill="#262626"/>
<line x1="887.50" y1="115.90" x2="997.00" y2="115.90" stroke="#0072BD" stroke-width="6.5" stroke-dasharray="22 19"/>
<text x="1004.50" y="141.40" font-size="66.2" text-anchor="start" fill="#000" stroke="#fff" stroke-width="0.9">Pre compression force SP</text>
<line x1="887.50" y1="199.50" x2="997.00" y2="199.50" stroke="#0072BD" stroke-width="6.5"/>
<text x="1004.50" y="225.00" font-size="66.2" text-anchor="start" fill="#000" stroke="#fff" stroke-width="0.9">Pre compression force</text>
<line x1="887.50" y1="283.10" x2="997.00" y2="283.10" stroke="#F8520A" stroke-width="3.8" stroke-dasharray="22 19"/>
<text x="1004.50" y="308.60" font-size="66.2" text-anchor="start" fill="#000" stroke="#fff" stroke-width="0.9">Main compression force SP</text>
<line x1="887.50" y1="366.70" x2="997.00" y2="366.70" stroke="#F8520A" stroke-width="6.5"/>
<text x="1004.50" y="392.20" font-size="66.2" text-anchor="start" fill="#000" stroke="#fff" stroke-width="0.9">Main compression force</text>
<rect x="965.00" y="1708.00" width="885.30" height="186.20" fill="#fff"/>
<rect x="965.00" y="1708.00" width="885.30" height="6.00" fill="#262626"/>
<rect x="965.00" y="1888.20" width="885.30" height="6.00" fill="#262626"/>
<rect x="965.00" y="1708.00" width="6.00" height="186.20" fill="#262626"/>
<rect x="1844.30" y="1708.00" width="6.00" height="186.20" fill="#262626"/>
<line x1="977.60" y1="1757.90" x2="1090.30" y2="1757.90" stroke="#0072BD" stroke-width="4.0"/>
<text x="1097.30" y="1784.40" font-size="66.4" text-anchor="start" fill="#000" stroke="#fff" stroke-width="0.9">Fill depth</text>
<line x1="977.60" y1="1842.90" x2="1090.30" y2="1842.90" stroke="#F8520A" stroke-width="6.0"/>
<text x="1097.30" y="1869.40" font-size="66.4" text-anchor="start" fill="#000" stroke="#fff" stroke-width="0.9">Main compression height</text>
<rect x="756.00" y="3360.00" width="779.00" height="347.00" fill="#fff"/>
<rect x="756.00" y="3360.00" width="779.00" height="5.50" fill="#262626"/>
<rect x="756.00" y="3701.00" width="779.00" height="6.00" fill="#262626"/>
<rect x="756.00" y="3360.00" width="3.50" height="347.00" fill="#262626"/>
<rect x="1529.00" y="3360.00" width="6.00" height="347.00" fill="#262626"/>
<line x1="768.30" y1="3408.10" x2="881.00" y2="3408.10" stroke="#0072BD" stroke-width="5.5" stroke-dasharray="22 19"/>
<text x="889.30" y="3433.60" font-size="67.0" text-anchor="start" fill="#000" stroke="#fff" stroke-width="0.9">Target weight</text>
<line x1="768.30" y1="3491.50" x2="881.00" y2="3491.50" stroke="#0072BD" stroke-width="6.0"/>
<text x="889.30" y="3517.00" font-size="67.0" text-anchor="start" fill="#000" stroke="#fff" stroke-width="0.9">Weight</text>
<line x1="768.30" y1="3574.90" x2="881.00" y2="3574.90" stroke="#F8520A" stroke-width="5.5" stroke-dasharray="22 19"/>
<text x="889.30" y="3600.40" font-size="67.0" text-anchor="start" fill="#000" stroke="#fff" stroke-width="0.9">Target breaking force</text>
<line x1="768.30" y1="3658.30" x2="881.00" y2="3658.30" stroke="#F8520A" stroke-width="4.0"/>
<text x="889.30" y="3683.80" font-size="67.0" text-anchor="start" fill="#000" stroke="#fff" stroke-width="0.9">Breaking force</text>
</svg>
</body></html>
